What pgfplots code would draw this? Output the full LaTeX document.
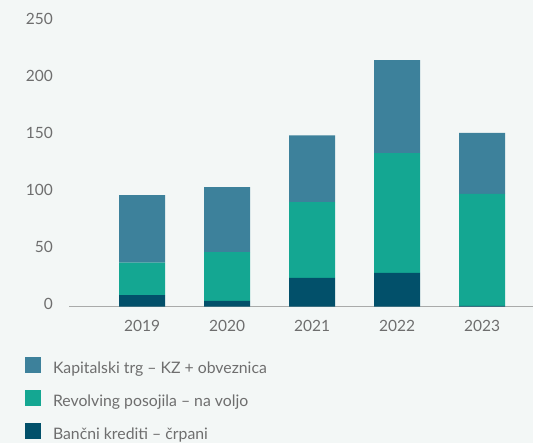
\documentclass[border=0pt]{standalone}
\usepackage{fontspec}
\setmainfont{Lato}
\usepackage{pgfplots}
\pgfplotsset{compat=1.18}
\definecolor{bg}{HTML}{F3F7F6}
\definecolor{kap}{HTML}{3D819B}
\definecolor{rev}{HTML}{14A792}
\definecolor{ban}{HTML}{02506A}
\definecolor{txt}{HTML}{6E6E6E}
\definecolor{base}{HTML}{A9ABAA}
\begin{document}
\begin{tikzpicture}
\path[use as bounding box, fill=bg] (0bp,0bp) rectangle (533bp,443bp);
\begin{axis}[
    at={(69bp,136.5bp)}, anchor=south west,
    scale only axis,
    width=464bp, height=285bp,
    ybar stacked,
    bar width=46bp,
    xmin=-0.859, xmax=4.6,
    ymin=0, ymax=250,
    xtick={0,1,2,3,4},
    xticklabels={2019,2020,2021,2022,2023},
    ytick={0,50,100,150,200,250},
    major tick length=0pt,
    axis x line*=bottom,
    axis y line*=left,
    y axis line style={draw=none},
    x axis line style={draw=base, line width=1.5bp, -},
    /pgf/number format/assume math mode=true,
    tick label style={font=\fontsize{15.5bp}{18bp}\selectfont, text=txt, inner sep=0pt},
    xticklabel style={yshift=-13.5bp},
    yticklabel style={xshift=-16bp, yshift=3bp},
    sq/.style={legend image code/.code={\fill[##1] (0bp,-3bp) rectangle (16bp,13bp);}},
    reverse legend,
    legend cell align=left,
    legend style={at={(-0.0948,-0.1761)}, anchor=north west, draw=none, fill=none,
        inner sep=0pt, outer sep=0pt, row sep=12bp, column sep=12bp,
        nodes={inner sep=0pt, text height=12bp, text depth=4bp, text=txt,
               font=\fontsize{15.8bp}{18bp}\selectfont}},
]
% stacked bottom to top: Bančni krediti, Revolving, Kapitalski trg
\addplot[fill=ban, draw=none, sq] coordinates {(0,10) (1,5) (2,25) (3,29.6) (4,0.5)};
\addplot[fill=rev, draw=none, sq] coordinates {(0,28.4) (1,42.8) (2,66.5) (3,105) (4,98.4)};
\addplot[fill=kap, draw=none, sq] coordinates {(0,59.4) (1,57) (2,58.5) (3,81.6) (4,53.3)};
\legend{Bančni krediti -- črpani, Revolving posojila -- na voljo, Kapitalski trg -- KZ + obveznica}
\end{axis}
\end{tikzpicture}
\end{document}
